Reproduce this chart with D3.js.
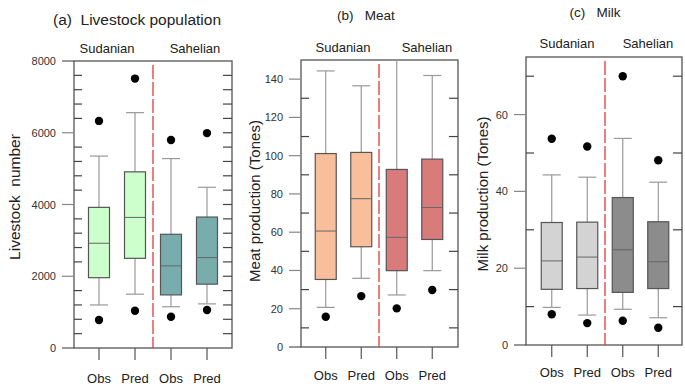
<!DOCTYPE html>
<html>
<head>
<meta charset="utf-8">
<script src="https://cdn.jsdelivr.net/npm/d3@7"></script>
<style>
  body { margin: 0; background: #fff; }
  svg { font-family: "Liberation Sans", Arial, sans-serif; }
</style>
</head>
<body>
<script>
const w = 685;
const h = 388;

// x categories, two per region
const groups = ["Obs", "Pred", "Obs", "Pred"];
const regions = ["Sudanian", "Sahelian"];

// box stats per group: [whisker low, q1, median, q3, whisker high]
const livestockStats = [
    [1200, 1960, 2920, 3920, 5350],
    [1500, 2500, 3640, 4910, 6560],
    [1150, 1480, 2290, 3170, 5280],
    [1230, 1780, 2520, 3650, 4480],
];
const livestockOutliers = [[780, 6330], [1040, 7510], [870, 5800], [1060, 5990]];

const meatStats = [
    [20.7, 35.3, 60.6, 101.1, 144.3],
    [35.9, 52.4, 77.5, 101.7, 136.5],
    [27.2, 39.9, 57.3, 92.8, 152],
    [39.9, 56.2, 72.9, 98.2, 141.9],
];
const meatOutliers = [[15.8], [26.6], [20.2], [29.8]];

const milkStats = [
    [9.8, 14.5, 21.9, 31.9, 44.3],
    [7.8, 14.7, 22.9, 32.0, 43.7],
    [9.3, 13.7, 24.8, 38.4, 53.8],
    [7.1, 14.7, 21.7, 32.1, 42.4],
];
const milkOutliers = [[8.0, 53.7], [5.7, 51.7], [6.3, 70.0], [4.5, 48.1]];

const livestockTicks = [0, 2000, 4000, 6000, 8000];
const meatTicks = [0, 20, 40, 60, 80, 100, 120, 140];
const milkTicks = [0, 20, 40, 60];

const svg = d3.select("body")
    .append("svg")
    .attr("width", w)
    .attr("height", h)
    ;

function drawPanel(p) {
    const g = svg.append("g");

    const yScale = d3.scaleLinear()
        .domain(p.domain)
        .range([p.bottom, p.top])
        ;
    const xScale = d3.scaleBand()
        .domain(d3.range(groups.length))
        .range(p.xRange)
        .padding(0)
        ;
    const cx = (i) => xScale(i) + xScale.bandwidth() / 2;
    const boxW = 21;

    // frame
    g.append("rect")
        .attr("x", p.left)
        .attr("y", p.top)
        .attr("width", p.right - p.left)
        .attr("height", p.bottom - p.top)
        .attr("fill", "none")
        .attr("stroke", "#555")
        .attr("stroke-width", 1.3)
        ;

    // major ticks outward on the left
    g.selectAll(".major")
        .data(p.ticks)
        .enter()
        .append("line")
        .attr("x1", p.left - 12)
        .attr("x2", p.left)
        .attr("y1", (d) => yScale(d))
        .attr("y2", (d) => yScale(d))
        .attr("stroke", (d) => (d == p.domain[0] || d == p.domain[1]) ? "#555" : "#888")
        .attr("stroke-width", 1.2)
        ;
    g.selectAll(".ticklabel")
        .data(p.ticks)
        .enter()
        .append("text")
        .attr("x", p.left - 18)
        .attr("y", (d) => yScale(d) + 4)
        .attr("text-anchor", "end")
        .attr("font-size", 11)
        .attr("fill", "#333")
        .text((d) => d)
        ;

    // minor ticks inward, left and right
    g.selectAll(".minorL")
        .data(p.minorLeft)
        .enter()
        .append("line")
        .attr("x1", p.left)
        .attr("x2", p.left + 8)
        .attr("y1", (d) => yScale(d))
        .attr("y2", (d) => yScale(d))
        .attr("stroke", "#444")
        .attr("stroke-width", 1.2)
        ;
    g.selectAll(".minorR")
        .data(p.minorRight)
        .enter()
        .append("line")
        .attr("x1", p.right - 9)
        .attr("x2", p.right)
        .attr("y1", (d) => yScale(d))
        .attr("y2", (d) => yScale(d))
        .attr("stroke", "#444")
        .attr("stroke-width", 1.2)
        ;

    // x ticks and labels
    g.selectAll(".xtick")
        .data(groups)
        .enter()
        .append("line")
        .attr("x1", (d, i) => cx(i))
        .attr("x2", (d, i) => cx(i))
        .attr("y1", p.bottom)
        .attr("y2", p.bottom + 12)
        .attr("stroke", "#555")
        .attr("stroke-width", 1.2)
        ;
    g.selectAll(".xlabel")
        .data(groups)
        .enter()
        .append("text")
        .attr("x", (d, i) => cx(i))
        .attr("y", p.xLabelY)
        .attr("text-anchor", "middle")
        .attr("font-size", 13)
        .attr("fill", "#222")
        .text((d) => d)
        ;

    // divider between regions
    const mid = (cx(1) + cx(2)) / 2;
    g.append("line")
        .attr("x1", mid)
        .attr("x2", mid)
        .attr("y1", p.top + 4)
        .attr("y2", p.bottom)
        .attr("stroke", "#e03a3a")
        .attr("stroke-width", 1.3)
        .attr("stroke-dasharray", "14,3")
        ;

    // whiskers
    const clipTop = (v) => Math.max(yScale(v), p.top);
    g.selectAll(".whisker")
        .data(p.stats)
        .enter()
        .append("line")
        .attr("x1", (d, i) => cx(i))
        .attr("x2", (d, i) => cx(i))
        .attr("y1", (d) => yScale(d[0]))
        .attr("y2", (d) => clipTop(d[4]))
        .attr("stroke", "#999")
        .attr("stroke-width", 1.2)
        ;
    g.selectAll(".capLo")
        .data(p.stats)
        .enter()
        .append("line")
        .attr("x1", (d, i) => cx(i) - 9)
        .attr("x2", (d, i) => cx(i) + 9)
        .attr("y1", (d) => yScale(d[0]))
        .attr("y2", (d) => yScale(d[0]))
        .attr("stroke", "#999")
        .attr("stroke-width", 1.2)
        ;
    g.selectAll(".capHi")
        .data(p.stats.filter((d) => yScale(d[4]) > p.top))
        .enter()
        .append("line")
        .attr("x1", (d) => cx(p.stats.indexOf(d)) - 9)
        .attr("x2", (d) => cx(p.stats.indexOf(d)) + 9)
        .attr("y1", (d) => yScale(d[4]))
        .attr("y2", (d) => yScale(d[4]))
        .attr("stroke", "#999")
        .attr("stroke-width", 1.2)
        ;

    // boxes
    g.selectAll(".box")
        .data(p.stats)
        .enter()
        .append("rect")
        .attr("x", (d, i) => cx(i) - boxW / 2)
        .attr("y", (d) => yScale(d[3]))
        .attr("width", boxW)
        .attr("height", (d) => yScale(d[1]) - yScale(d[3]))
        .attr("fill", (d, i) => p.colors[i < 2 ? 0 : 1])
        .attr("stroke", "#555")
        .attr("stroke-width", 1.2)
        ;
    g.selectAll(".median")
        .data(p.stats)
        .enter()
        .append("line")
        .attr("x1", (d, i) => cx(i) - boxW / 2)
        .attr("x2", (d, i) => cx(i) + boxW / 2)
        .attr("y1", (d) => yScale(d[2]))
        .attr("y2", (d) => yScale(d[2]))
        .attr("stroke", "#666")
        .attr("stroke-width", 1)
        ;

    // outliers
    p.outliers.forEach((vals, i) => {
        g.selectAll(".out" + i)
            .data(vals)
            .enter()
            .append("circle")
            .attr("cx", cx(i))
            .attr("cy", (d) => yScale(d))
            .attr("r", 4.2)
            .attr("fill", "#000")
            ;
    });

    // region labels
    g.selectAll(".region")
        .data(regions)
        .enter()
        .append("text")
        .attr("x", (d, i) => p.regionX[i])
        .attr("y", p.regionY)
        .attr("text-anchor", "middle")
        .attr("font-size", 13)
        .attr("fill", "#222")
        .text((d) => d)
        ;

    // title
    g.append("text")
        .attr("x", p.titleX)
        .attr("y", p.titleY)
        .attr("text-anchor", p.titleAnchor)
        .attr("font-size", p.titleSize)
        .attr("fill", "#222")
        .style("white-space", "pre")
        .text(p.title)
        ;

    // y label
    g.append("text")
        .attr("transform", `translate(${p.yLabelX},${p.yLabelY}) rotate(-90)`)
        .attr("text-anchor", "middle")
        .attr("font-size", p.yLabelSize)
        .attr("fill", "#222")
        .style("white-space", "pre")
        .text(p.yLabel)
        ;
}

drawPanel({
    domain: [0, 8000], top: 61, bottom: 348, left: 74, right: 232,
    xRange: [81, 225], xLabelY: 383,
    ticks: livestockTicks,
    minorLeft: d3.range(400, 8000, 400).filter((d) => d % 2000 != 0),
    minorRight: d3.range(400, 8000, 400),
    stats: livestockStats, outliers: livestockOutliers,
    colors: ["#ccffcc", "#79adad"],
    regionX: [107, 195], regionY: 53,
    title: "(a)  Livestock population", titleX: 53, titleY: 25, titleAnchor: "start", titleSize: 15.5,
    yLabel: "Livestock  number", yLabelX: 20, yLabelY: 197, yLabelSize: 15.5,
});

drawPanel({
    domain: [0, 150], top: 60, bottom: 347, left: 301, right: 458,
    xRange: [308, 450], xLabelY: 380,
    ticks: meatTicks,
    minorLeft: d3.range(10, 150, 20),
    minorRight: d3.range(10, 150, 20),
    stats: meatStats, outliers: meatOutliers,
    colors: ["#f9bf9c", "#d97b7b"],
    regionX: [343, 427], regionY: 52,
    title: "(b)   Meat", titleX: 366, titleY: 20, titleAnchor: "middle", titleSize: 13.5,
    yLabel: "Meat production (Tones)", yLabelX: 260, yLabelY: 201, yLabelSize: 15,
});

drawPanel({
    domain: [0, 75], top: 57, bottom: 345, left: 526, right: 682,
    xRange: [534, 676], xLabelY: 377,
    ticks: milkTicks,
    minorLeft: d3.range(10, 75, 20),
    minorRight: d3.range(10, 75, 20),
    stats: milkStats, outliers: milkOutliers,
    colors: ["#d3d3d3", "#8c8c8c"],
    regionX: [567, 648], regionY: 48,
    title: "(c)   Milk", titleX: 595, titleY: 17, titleAnchor: "middle", titleSize: 13.5,
    yLabel: "Milk production (Tones)", yLabelX: 488, yLabelY: 194, yLabelSize: 15,
});
</script>
</body>
</html>
